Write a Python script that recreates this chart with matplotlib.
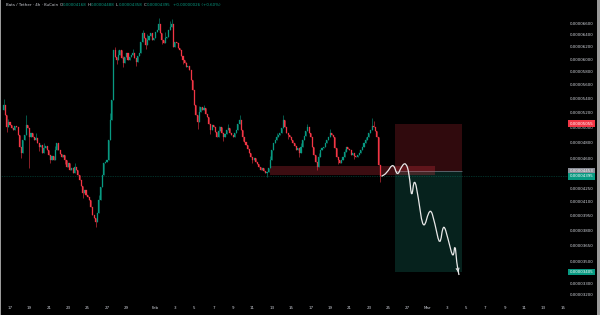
import numpy as np
import matplotlib.pyplot as plt
import matplotlib.transforms as mtransforms
from matplotlib.path import Path
from matplotlib.patches import PathPatch, Rectangle

# Bats / Tether, 4h candles, prices in units of 1e-8 USDT
closes = [
    5317, 5177, 5013, 5080, 5040, 5000, 4973, 5027, 5013, 4907,
    4754, 4678, 4843, 4907, 5040, 5000, 4882, 4933, 4882, 4843,
    4869, 4805, 4754, 4779, 4678, 4741, 4766, 4715, 4653, 4591,
    4640, 4591, 4715, 4805, 4715, 4665, 4628, 4653, 4591, 4506,
    4554, 4470, 4494, 4435, 4506, 4470, 4411, 4352, 4284, 4204,
    4238, 4182, 4160, 4126, 4050, 3965, 3933, 3891, 3986, 4126,
    4272, 4411, 4554, 4566, 4591, 4843, 5108, 5388, 6156, 6042,
    5994, 6074, 6156, 6026, 5946, 6042, 6107, 5994, 6042, 6074,
    6107, 6026, 5962, 6058, 6107, 6289, 6441, 6356, 6239, 6322,
    6390, 6441, 6322, 6356, 6460, 6494, 6598, 6441, 6322, 6272,
    6356, 6373, 6494, 6546, 6598, 6206, 6289, 6272, 6189, 6156,
    6058, 5994, 5946, 5883, 5899, 5836, 5683, 5533, 5317, 5177,
    5080, 5218, 5289, 5246, 5274, 5190, 5149, 5054, 4973, 5040,
    5013, 4947, 4882, 4960, 5013, 4933, 4882, 4920, 4973, 5000,
    4933, 4907, 4882, 4933, 4973, 5054, 5108, 4973, 4882, 4817,
    4779, 4728, 4678, 4628, 4591, 4616, 4566, 4542, 4506, 4470,
    4494, 4458, 4435, 4447, 4494, 4591, 4715, 4805, 4843, 4882,
    4907, 4933, 5000, 5108, 5013, 4933, 4907, 4882, 4843, 4805,
    4766, 4715, 4741, 4678, 4754, 4843, 4894, 4960, 5013, 4933,
    4882, 4754, 4653, 4566, 4506, 4628, 4715, 4741, 4754, 4805,
    4843, 4882, 4933, 4907, 4882, 4741, 4628, 4591, 4554, 4591,
    4628, 4690, 4754, 4728, 4715, 4653, 4678, 4640, 4628, 4653,
    4678, 4715, 4754, 4805, 4843, 4882, 4933, 4973, 5027, 5013,
    4960, 4882, 4530, 4395,
]
first_open = 5250
wick_hi = {0: 5400, 3: 5120, 9: 4990, 14: 5177, 20: 4930, 25: 4800, 32: 4760,
           44: 4560, 59: 4180, 66: 5200, 69: 6200, 71: 6150, 74: 6060, 77: 6110,
           80: 6180, 86: 6500, 89: 6420, 92: 6440, 96: 6700, 100: 6450, 103: 6650,
           104: 6690, 108: 6260, 113: 5960, 121: 5300, 124: 5320, 133: 5030,
           139: 5060, 146: 5177, 165: 4640, 169: 4930, 173: 5177, 184: 4800,
           188: 5060, 195: 4680, 202: 4980, 211: 4730, 224: 4880, 228: 5130, 229: 5090}
wick_lo = {2: 4950, 11: 4620, 16: 4494, 22: 4700, 29: 4550, 38: 4540, 49: 4150,
           57: 3840, 70: 5930, 74: 5890, 82: 5900, 88: 6180, 98: 6260, 111: 5930,
           120: 4990, 128: 4920, 136: 4830, 148: 4830, 154: 4550, 163: 4390,
           176: 4860, 183: 4630, 194: 4470, 207: 4540, 217: 4600, 233: 4330}

start_day = -2 / 3   # Jan 16 08:00 (day 0 = Jan 17)
step = 1 / 6

last_price = 4395
entry, stop, target = 4453, 5055, 3405
trade_days = (39.69, 46.6)
zone_days = (26.8, 43.8)
zone_prices = (4410, 4520)

# projected path drawn on the chart
proj_days = [38.3, 38.84, 39.52, 39.93, 40.38, 40.82, 41.16, 41.41, 41.68, 42.09,
             42.61, 43.3, 43.81, 44.33, 44.67, 45.19, 45.7, 45.88, 46.05, 46.29]
proj_price = [4395, 4431, 4560, 4391, 4520, 4560, 4431, 4120, 4390, 4163,
              3780, 4060, 3877, 3630, 3890, 3711, 3516, 3690, 3488, 3378]

tick_days = [0, 2, 4, 6, 8, 10, 12, 15, 17, 19, 21, 23, 25, 27, 29,
             31, 33, 35, 37, 39, 41, 43, 45, 47, 49, 51, 53, 55, 57]
tick_labels = ["17", "19", "21", "23", "25", "27", "29", "Feb", "3", "5", "7", "9", "11", "13", "15",
               "17", "19", "21", "23", "25", "27", "Mar", "3", "5", "7", "9", "11", "13", "15"]
price_ticks = [6600, 6400, 6200, 6000, 5800, 5600, 5400, 5200, 5000, 4800, 4600,
               4250, 4100, 3950, 3800, 3650, 3500, 3300, 3200]

UP = '#089981'
DOWN = '#f23645'
TXT = '#d1d4dc'

fig = plt.figure(figsize=(6, 3.15), dpi=100, facecolor='black')
ax = fig.add_axes([0, 12 / 315, 568 / 600, 303 / 315])
ax.set_facecolor('black')
ax.set_yscale('log')
ax.set_xlim(-1.031, 57.53)
ax.set_ylim(3135, 7034)
for s in ax.spines.values():
    s.set_visible(False)

# candles
n = len(closes)
t = start_day + np.arange(n) * step
opens = np.array([first_open] + closes[:-1], dtype=float)
cl = np.array(closes, dtype=float)
lo_body = np.minimum(opens, cl)
hi_body = np.maximum(opens, cl)
hi_body = np.where(hi_body - lo_body < 3, lo_body + 3, hi_body)
colors = np.where(cl >= opens, UP, DOWN)
highs = np.array([max(hi_body[i], wick_hi.get(i, 0)) for i in range(n)])
lows = np.array([min(lo_body[i], wick_lo.get(i, 1e9)) for i in range(n)])
ax.vlines(t, lows, highs, colors=colors, lw=0.4, zorder=3)
ax.bar(t, hi_body - lo_body, bottom=lo_body, width=0.11, color=colors,
       edgecolor=colors, linewidth=0.2, zorder=3)

# trade boxes
ax.add_patch(Rectangle((trade_days[0], entry), trade_days[1] - trade_days[0], stop - entry,
                       facecolor=DOWN, alpha=0.2, lw=0, zorder=1))
ax.add_patch(Rectangle((trade_days[0], target), trade_days[1] - trade_days[0], entry - target,
                       facecolor='#22ab94', alpha=0.2, lw=0, zorder=1))
ax.hlines(entry, trade_days[0], trade_days[1], color='#787b86', lw=0.5, zorder=2)
ax.add_patch(Rectangle((zone_days[0], zone_prices[0]), zone_days[1] - zone_days[0],
                       zone_prices[1] - zone_prices[0], facecolor=DOWN, alpha=0.25, lw=0, zorder=2))

# last price line
ax.axhline(last_price, color=UP, lw=0.5, alpha=0.6, ls=(0, (1, 1.5)), zorder=2)

# projection curve (quadratic bezier through midpoints)
pts = list(zip(proj_days, proj_price))
verts = [pts[0], ((pts[0][0] + pts[1][0]) / 2, (pts[0][1] + pts[1][1]) / 2)]
codes = [Path.MOVETO, Path.LINETO]
for k in range(1, len(pts) - 1):
    mid = ((pts[k][0] + pts[k + 1][0]) / 2, (pts[k][1] + pts[k + 1][1]) / 2)
    verts += [pts[k], mid]
    codes += [Path.CURVE3, Path.CURVE3]
verts.append(pts[-1])
codes.append(Path.LINETO)
ax.add_patch(PathPatch(Path(verts, codes), facecolor='none', edgecolor='#e8e8e8', lw=0.9, zorder=4))
ax.annotate('', xy=pts[-1], xytext=(proj_days[-2] + 0.12, proj_price[-2] - 60),
            arrowprops=dict(arrowstyle='->', color='#e8e8e8', lw=0.8, mutation_scale=5), zorder=4)

# x axis
ax.set_xticks(tick_days)
ax.set_xticklabels(tick_labels)
ax.tick_params(axis='x', length=0, pad=2.2, labelsize=2.9, labelcolor=TXT)
ax.set_yticks([])
ax.minorticks_off()
ax.set_yticks([], minor=True)

# price scale
trans = mtransforms.blended_transform_factory(ax.transAxes, ax.transData)
for v in price_ticks:
    ax.text(1.003, v, "0.0000%04d" % v, transform=trans, fontsize=2.9, color=TXT,
            va='center', ha='left', clip_on=False)
for v, bg in [(stop, DOWN), (entry, '#8a8d96'), (last_price, UP), (target, UP)]:
    ax.text(1.003, v, "0.0000%04d" % v, transform=trans, fontsize=2.9, color='white',
            va='center', ha='left', clip_on=False,
            bbox=dict(boxstyle='square,pad=0.35', facecolor=bg, edgecolor='none'))

# header
yh = 1 - 5 / 315
fig.text(6 / 600, yh, "Bats / Tether · 4h · KuCoin", fontsize=2.9, color=TXT, va='center')
for lab, val, xp in [("O", "0.00004168", 60), ("H", "0.00004488", 88),
                     ("L", "0.00004358", 116), ("C", "0.00004395", 144)]:
    fig.text(xp / 600, yh, lab, fontsize=2.9, color=TXT, va='center')
    fig.text((xp + 3) / 600, yh, val, fontsize=2.9, color=UP, va='center')
fig.text(173 / 600, yh, "+0.00000026 (+0.60%)", fontsize=2.9, color=UP, va='center')

# screenshot edges
fig.add_artist(Rectangle((597 / 600, 0), 3 / 600, 1, transform=fig.transFigure,
                         facecolor='#9a9a9a', lw=0))
fig.add_artist(Rectangle((0, 0), 1 / 600, 1, transform=fig.transFigure,
                         facecolor='#9a9a9a', lw=0))

fig.savefig('out.png', dpi=100, facecolor='black')
